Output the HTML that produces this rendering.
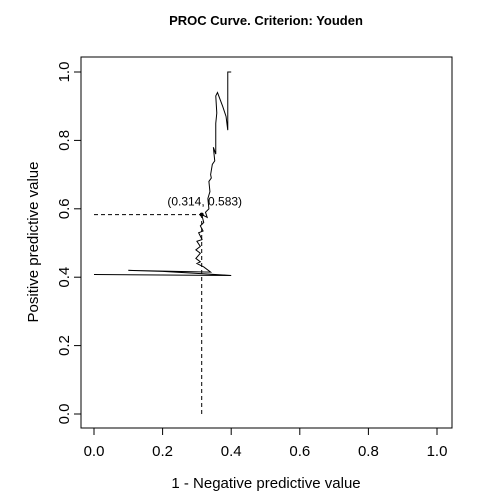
<!DOCTYPE html>
<html><head><meta charset="utf-8"><style>body{margin:0;background:#fff}svg{display:block;font-family:"Liberation Sans",sans-serif}</style></head>
<body>
<svg id="c" width="504" height="504">
<text x="266" y="25" text-anchor="middle" font-weight="bold" font-size="13">PROC Curve. Criterion: Youden</text>
<rect x="81" y="57" width="371" height="371" fill="none" stroke="#000"/>
<text x="266" y="488" text-anchor="middle" font-size="15">1 - Negative predictive value</text>
<text transform="translate(38,242) rotate(-90)" text-anchor="middle" font-size="15">Positive predictive value</text>
<g id="g"></g>
</svg>
<script>
const ticks=[0,0.2,0.4,0.6,0.8,1.0];
const tickLabels=["0.0","0.2","0.4","0.6","0.8","1.0"];
const curveX=[0.40,0.39,0.39,0.385,0.375,0.36,0.355,0.358,0.355,0.355,0.348,0.352,0.345,0.34,0.342,0.335,0.338,0.332,0.335,0.325,0.33,0.314,0.32,0.31,0.318,0.305,0.315,0.30,0.31,0.297,0.31,0.297,0.31,0.30,0.32,0.34,0.10,0.2,0.318,0.40,0.0];
const curveY=[1.0,1.0,0.83,0.87,0.90,0.94,0.93,0.88,0.85,0.76,0.78,0.74,0.73,0.70,0.69,0.68,0.65,0.63,0.60,0.59,0.575,0.583,0.56,0.55,0.535,0.53,0.51,0.505,0.49,0.48,0.47,0.455,0.445,0.44,0.43,0.415,0.42,0.417,0.41,0.405,0.408];
const optX=0.314, optY=0.583;
const xs=v=>94+v*343, ys=v=>414-v*342;
const g=document.getElementById('g'),NS="http://www.w3.org/2000/svg";
function mk(t,a){const e=document.createElementNS(NS,t);for(const k in a)e.setAttribute(k,a[k]);g.appendChild(e);return e;}
ticks.forEach((t,i)=>{
 let l=mk('line',{x1:xs(t),x2:xs(t),y1:428,y2:435,stroke:'#000'});
 
 
 let tx=mk('text',{x:xs(t),y:456,'text-anchor':'middle','font-size':15});tx.textContent=tickLabels[i];
 
 
 let l2=mk('line',{x1:74,x2:81,y1:ys(t),y2:ys(t),stroke:'#000'});
 
 
 let ty=mk('text',{transform:`translate(69,${ys(t)}) rotate(-90)`,'text-anchor':'middle','font-size':15});ty.textContent=tickLabels[i];
 
 
});
let p=mk('polyline',{points:curveX.map((x,i)=>xs(x)+','+ys(curveY[i])).join(' '),fill:'none',stroke:'#000','stroke-width':1});


let h=mk('line',{x1:xs(0),x2:xs(optX),y1:ys(optY),y2:ys(optY),stroke:'#000','stroke-dasharray':'4,3'});


let v=mk('line',{x1:xs(optX),x2:xs(optX),y1:ys(0),y2:ys(optY),stroke:'#000','stroke-dasharray':'4,3'});


let d=mk('circle',{cx:xs(optX),cy:ys(optY),r:2,fill:'#000'});


let lb=mk('text',{x:xs(optX)+3,y:ys(optY)-9,'text-anchor':'middle','font-size':12});lb.textContent=`(${optX.toFixed(3)}, ${optY.toFixed(3)})`;


</script>
</body></html>
